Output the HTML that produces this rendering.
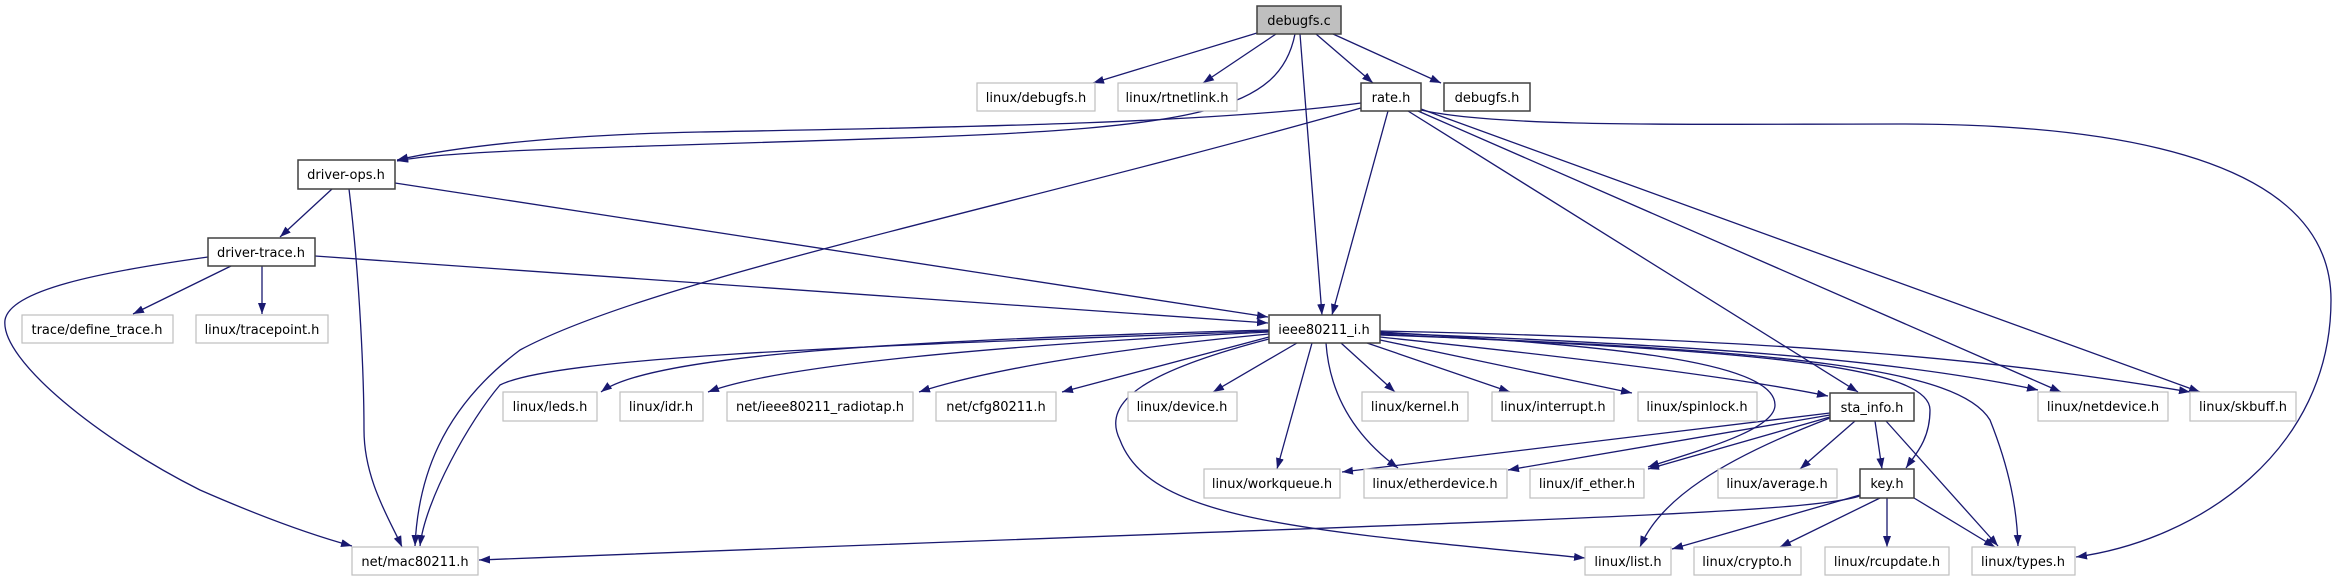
<!DOCTYPE html>
<html><head><meta charset="utf-8"><style>
html,body{margin:0;padding:0;background:#fff}
svg{display:block}
text{font-family:"DejaVu Sans","Liberation Sans",sans-serif;font-size:13px;fill:#000}
.e{fill:none;stroke:#191970;stroke-width:1.3}
.b{fill:#fff;stroke:#404040;stroke-width:1.5}
.g{fill:#fff;stroke:#bfbfbf;stroke-width:1.2}
</style></head><body>
<svg width="2338" height="581" viewBox="0 0 2338 581" xmlns="http://www.w3.org/2000/svg">
<defs><marker id="a" markerUnits="userSpaceOnUse" markerWidth="12" markerHeight="10" refX="11" refY="4" orient="auto"><path d="M0,0 L11,4 L0,8 z" fill="#191970"/></marker></defs>
<g class="e" marker-end="url(#a)">
<path d="M1257,33 L1093,83"/>
<path d="M1276,34 L1203,83"/>
<path d="M1316,34 L1373,83"/>
<path d="M1333,34 L1441,83"/>
<path d="M1295,34 C1280,110 1200,128 900,138 C600,148 450,150 397,161"/>
<path d="M1361,103 C1200,125 900,128 700,132 C550,135 450,148 397,160"/>
<path d="M1300,34 L1322,315"/>
<path d="M1388,111 L1332,315"/>
<path d="M1361,108 C1000,210 650,280 520,350 C440,410 418,480 415,546"/>
<path d="M1269,331 C900,345 560,355 500,385 C470,420 425,500 420,546"/>
<path d="M349,189 C360,280 364,380 364,430 C364,480 390,520 402,547"/>
<path d="M332,189 L280,237"/>
<path d="M395,183 L1268,317"/>
<path d="M315,256 L1268,323"/>
<path d="M231,266 L133,314"/>
<path d="M262,266 L262,314"/>
<path d="M208,257 C100,272 10,290 5,320 C0,360 100,440 200,490 C280,525 330,540 352,546"/>
<path d="M1408,111 L1858,392"/>
<path d="M1418,111 L2061,392"/>
<path d="M1421,109 L2200,392"/>
<path d="M1421,110 C1500,128 1700,124 1900,124 C2150,124 2331,170 2331,300 C2331,450 2200,540 2076,557"/>
<path d="M1269,330 C900,340 650,355 601,392"/>
<path d="M1269,332 C1000,345 780,365 708,392"/>
<path d="M1269,334 C1100,350 980,372 919,392"/>
<path d="M1269,337 L1062,392"/>
<path d="M1297,343 L1213,392"/>
<path d="M1341,343 L1395,392"/>
<path d="M1367,343 L1510,392"/>
<path d="M1380,340 L1632,393"/>
<path d="M1380,337 C1600,360 1750,380 1828,396"/>
<path d="M1312,343 L1277,469"/>
<path d="M1326,343 C1330,400 1360,440 1398,468"/>
<path d="M1380,332 C1600,345 1775,360 1775,405 C1775,430 1700,450 1648,467"/>
<path d="M1380,334 C1700,350 1930,360 1930,410 C1930,440 1915,455 1906,468"/>
<path d="M1380,335 C1800,350 1960,370 1990,420 C2010,470 2017,510 2018,546"/>
<path d="M1380,333 C1700,345 1900,360 2038,390"/>
<path d="M1380,331 C1800,340 2000,360 2190,392"/>
<path d="M1269,339 C1150,370 1100,400 1120,440 C1150,520 1300,530 1585,558"/>
<path d="M1860,496 C1800,515 1500,520 479,560"/>
<path d="M1830,413 L1342,472"/>
<path d="M1830,415 L1508,470"/>
<path d="M1830,417 L1648,469"/>
<path d="M1855,421 L1800,469"/>
<path d="M1875,421 L1882,469"/>
<path d="M1886,421 L1998,546"/>
<path d="M1830,418 C1720,460 1660,500 1640,547"/>
<path d="M1860,495 L1672,549"/>
<path d="M1880,498 L1780,547"/>
<path d="M1887,498 L1887,547"/>
<path d="M1914,498 L1995,547"/>
</g>
<g>
<rect x="1257" y="6" width="84" height="28" fill="#bfbfbf" stroke="#404040" stroke-width="1.5"/><text x="1299" y="25" text-anchor="middle">debugfs.c</text>
<rect class="g" x="977" y="83" width="118" height="28"/><text x="1036" y="102" text-anchor="middle">linux/debugfs.h</text>
<rect class="g" x="1118" y="83" width="119" height="28"/><text x="1177" y="102" text-anchor="middle">linux/rtnetlink.h</text>
<rect class="b" x="1361" y="83" width="60" height="28"/><text x="1391" y="102" text-anchor="middle">rate.h</text>
<rect class="b" x="1444" y="83" width="86" height="28"/><text x="1487" y="102" text-anchor="middle">debugfs.h</text>
<rect class="b" x="298" y="160" width="97" height="29"/><text x="346" y="179" text-anchor="middle">driver-ops.h</text>
<rect class="b" x="208" y="238" width="107" height="28"/><text x="261" y="257" text-anchor="middle">driver-trace.h</text>
<rect class="g" x="22" y="315" width="151" height="28"/><text x="97" y="334" text-anchor="middle">trace/define_trace.h</text>
<rect class="g" x="196" y="315" width="132" height="28"/><text x="262" y="334" text-anchor="middle">linux/tracepoint.h</text>
<rect class="b" x="1269" y="315" width="111" height="28"/><text x="1324" y="334" text-anchor="middle">ieee80211_i.h</text>
<rect class="g" x="503" y="392" width="94" height="29"/><text x="550" y="411" text-anchor="middle">linux/leds.h</text>
<rect class="g" x="620" y="392" width="83" height="29"/><text x="661" y="411" text-anchor="middle">linux/idr.h</text>
<rect class="g" x="727" y="392" width="186" height="29"/><text x="820" y="411" text-anchor="middle">net/ieee80211_radiotap.h</text>
<rect class="g" x="936" y="392" width="120" height="29"/><text x="996" y="411" text-anchor="middle">net/cfg80211.h</text>
<rect class="g" x="1128" y="392" width="109" height="29"/><text x="1182" y="411" text-anchor="middle">linux/device.h</text>
<rect class="g" x="1362" y="392" width="106" height="29"/><text x="1415" y="411" text-anchor="middle">linux/kernel.h</text>
<rect class="g" x="1492" y="392" width="122" height="29"/><text x="1553" y="411" text-anchor="middle">linux/interrupt.h</text>
<rect class="g" x="1638" y="392" width="119" height="29"/><text x="1697" y="411" text-anchor="middle">linux/spinlock.h</text>
<rect class="b" x="1830" y="393" width="84" height="28"/><text x="1872" y="412" text-anchor="middle">sta_info.h</text>
<rect class="g" x="2038" y="392" width="130" height="29"/><text x="2103" y="411" text-anchor="middle">linux/netdevice.h</text>
<rect class="g" x="2190" y="392" width="106" height="29"/><text x="2243" y="411" text-anchor="middle">linux/skbuff.h</text>
<rect class="g" x="1204" y="469" width="136" height="29"/><text x="1272" y="488" text-anchor="middle">linux/workqueue.h</text>
<rect class="g" x="1364" y="469" width="143" height="29"/><text x="1435" y="488" text-anchor="middle">linux/etherdevice.h</text>
<rect class="g" x="1530" y="469" width="114" height="29"/><text x="1587" y="488" text-anchor="middle">linux/if_ether.h</text>
<rect class="g" x="1718" y="469" width="119" height="29"/><text x="1777" y="488" text-anchor="middle">linux/average.h</text>
<rect class="b" x="1860" y="469" width="54" height="29"/><text x="1887" y="488" text-anchor="middle">key.h</text>
<rect class="g" x="352" y="547" width="126" height="28"/><text x="415" y="566" text-anchor="middle">net/mac80211.h</text>
<rect class="g" x="1585" y="547" width="86" height="28"/><text x="1628" y="566" text-anchor="middle">linux/list.h</text>
<rect class="g" x="1694" y="547" width="107" height="28"/><text x="1747" y="566" text-anchor="middle">linux/crypto.h</text>
<rect class="g" x="1825" y="547" width="124" height="28"/><text x="1887" y="566" text-anchor="middle">linux/rcupdate.h</text>
<rect class="g" x="1972" y="547" width="103" height="28"/><text x="2023" y="566" text-anchor="middle">linux/types.h</text>
</g>
</svg>
</body></html>
